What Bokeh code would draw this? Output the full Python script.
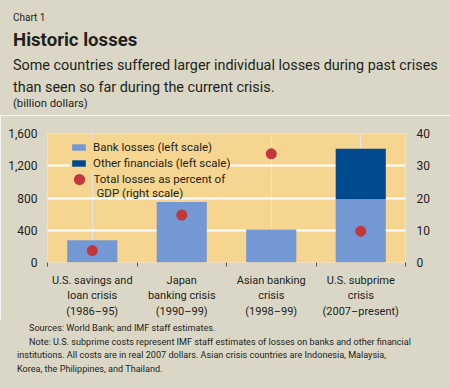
from bokeh.plotting import figure
from bokeh.layouts import column
from bokeh.models import (Range1d, FactorRange, LinearAxis, CategoricalAxis, FixedTicker,
                          NumeralTickFormatter, Legend, LegendItem, Label, ColumnDataSource, Div)
from bokeh.embed import file_html
from bokeh.resources import INLINE

categories = ["U.S. savings and\nloan crisis\n(1986–95)",
              "Japan\nbanking crisis\n(1990–99)",
              "Asian banking\ncrisis\n(1998–99)",
              "U.S. subprime\ncrisis\n(2007–present)"]
bank_losses = [275, 750, 410, 785]
other_financials = [0, 0, 0, 625]
pct_gdp = [3.7, 14.7, 33.7, 9.7]
left_ticks = [0, 400, 800, 1200, 1600]
right_ticks = [0, 10, 20, 30, 40]
grid_ticks = [400, 800, 1200]
edge_ticks = [0, 1, 2, 3, 4]

FONT = "Roboto"
TXT = "#231f20"
BG = "#dad7c7"
PLOT_BG = "#f6d590"
LIGHT = "#7398d3"
DARK = "#004a8d"
RED = "#c1373a"
W = 450


def text_div(h, lines):
    spans = "".join(
        f'<div style="position:absolute;left:{x}px;top:{y}px;font-size:{s}px;line-height:1;'
        f'white-space:nowrap;font-weight:{"bold" if b else "normal"}">{t}</div>'
        for (t, x, y, s, b) in lines)
    html = (f'<div style="position:relative;width:{W}px;height:{h}px;background:{BG};'
            f'font-family:{FONT};color:{TXT};overflow:hidden">{spans}</div>')
    return Div(text=html, width=W, height=h, margin=0, styles={"background-color": BG})


# ---- header ----
head = text_div(115, [
    ("Chart 1", 13, 12.7, 10, False),
    ("Historic losses", 13, 30.6, 18.6, True),
    ("Some countries suffered larger individual losses during past crises", 13, 59.1, 14.4, False),
    ("than seen so far during the current crisis.", 13, 81.1, 14.4, False),
    ("(billion dollars)", 13, 98, 11.3, False),
])

# ---- chart ----
src = ColumnDataSource(data=dict(cat=categories, bank=bank_losses, other=other_financials))

p_chart = figure(width=W, height=205, output_backend="svg", toolbar_location=None,
                 x_range=FactorRange(factors=categories, range_padding=0, factor_padding=0),
                 y_range=Range1d(0, 1600), x_axis_location=None, margin=0,
                 min_border_left=47, min_border_right=45, min_border_top=18,
                 min_border_bottom=58)
p_chart.extra_y_ranges = {"right": Range1d(0, 40)}
p_chart.background_fill_color = PLOT_BG
p_chart.border_fill_color = BG
p_chart.outline_line_color = None

bars = p_chart.vbar_stack(["bank", "other"], x="cat", width=0.56, color=[LIGHT, DARK],
                          line_color=None, source=src)
dots = p_chart.scatter(x=categories, y=pct_gdp, size=11, color=RED, line_color=None,
                       y_range_name="right")

p_chart.ygrid.ticker = FixedTicker(ticks=grid_ticks)
p_chart.ygrid.grid_line_color = "white"
p_chart.ygrid.grid_line_width = 2

ya = p_chart.yaxis[0]
ya.ticker = FixedTicker(ticks=left_ticks)
ya.formatter = NumeralTickFormatter(format="0,0")
ya.axis_line_color = None
ya.major_tick_line_color = None
ya.minor_tick_line_color = None
ya.major_label_standoff = 4
ya.major_label_text_font = FONT
ya.major_label_text_font_size = "12px"
ya.major_label_text_color = TXT

ra = LinearAxis(y_range_name="right", ticker=FixedTicker(ticks=right_ticks),
                axis_line_color=None, major_tick_line_color=None, minor_tick_line_color=None,
                major_label_standoff=5, major_label_text_font=FONT,
                major_label_text_font_size="12px", major_label_text_color=TXT)
p_chart.add_layout(ra, "right")

ea = LinearAxis(ticker=FixedTicker(ticks=edge_ticks),
                major_label_overrides={t: "" for t in edge_ticks},
                axis_line_color=None, major_tick_in=0, major_tick_out=4,
                major_tick_line_color="#555555", minor_tick_line_color=None,
                major_label_standoff=0)
p_chart.add_layout(ea, "below")

ca = CategoricalAxis(axis_line_color=None, major_tick_line_color=None,
                     major_label_standoff=1, major_label_text_font=FONT,
                     major_label_text_font_size="11px", major_label_text_color=TXT)
p_chart.add_layout(ca, "below")

legA = Legend(items=[LegendItem(label="Bank losses (left scale)", renderers=[bars[0]]),
                     LegendItem(label="Other financials (left scale)", renderers=[bars[1]])],
              location=(23, 91), glyph_width=17, glyph_height=8, label_height=16,
              spacing=0, padding=3, margin=0, label_standoff=6,
              background_fill_color=PLOT_BG, background_fill_alpha=1,
              border_line_color=None, label_text_font=FONT,
              label_text_font_size="11.5px", label_text_color=TXT)
legB = Legend(items=[LegendItem(label="Total losses as percent of", renderers=[dots])],
              location=(17.5, 69), glyph_width=28, glyph_height=28, label_height=28,
              spacing=0, padding=3, margin=0, label_standoff=1,
              background_fill_alpha=0, border_line_color=None, label_text_font=FONT,
              label_text_font_size="11.5px", label_text_color=TXT)
p_chart.add_layout(legA, "center")
p_chart.add_layout(legB, "center")
p_chart.add_layout(Label(x=49, y=77, x_units="screen", y_units="screen",
                         text="GDP (right scale)", text_font=FONT, text_font_size="11.5px",
                         text_color=TXT, text_baseline="top", text_align="left"))

# ---- footer ----
foot = text_div(68, [
    ("Sources: World Bank; and IMF staff estimates.", 29, 3.8, 9.1, False),
    ("Note: U.S. subprime costs represent IMF staff estimates of losses on banks and other financial",
     29, 17.8, 9.1, False),
    ("institutions. All costs are in real 2007 dollars. Asian crisis countries are Indonesia, Malaysia,",
     17, 30.8, 9.1, False),
    ("Korea, the Philippines, and Thailand.", 17, 44.8, 9.1, False),
])

p = column(head, p_chart, foot, spacing=0, margin=0)

open("out.html", "w").write(file_html(p, INLINE))
